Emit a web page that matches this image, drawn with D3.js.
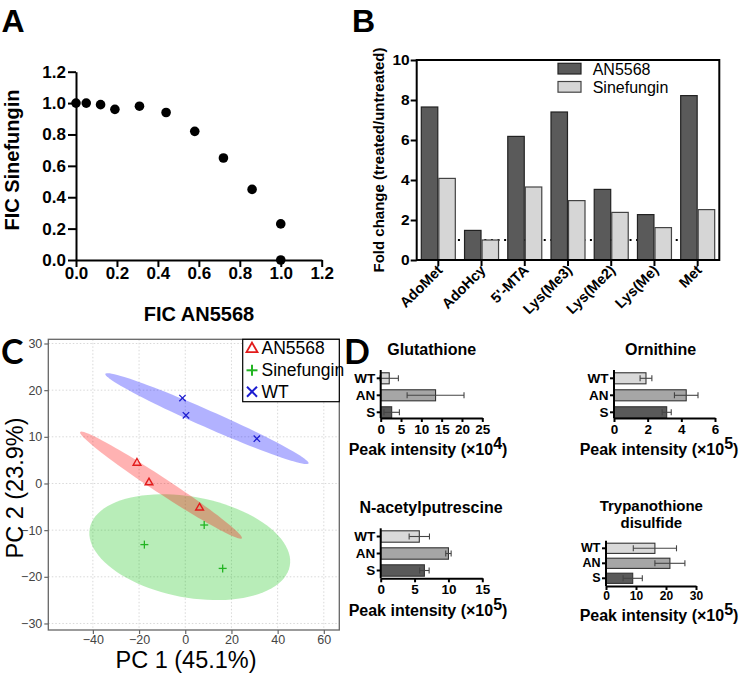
<!DOCTYPE html>
<html><head><meta charset="utf-8">
<script src="https://cdn.jsdelivr.net/npm/d3@7"></script>
<style>body{margin:0;background:#fff} svg{display:block}</style>
</head><body><svg id="c" width="739" height="675"></svg>
<script>
// ---------- Panel A data ----------
const ficAN5568 = [0, 0.05, 0.12, 0.19, 0.31, 0.44, 0.58, 0.72, 0.86, 1.0, 1.0];
const ficSinefungin = [1.0, 1.0, 0.99, 0.96, 0.98, 0.94, 0.82, 0.65, 0.45, 0.23, 0.0];
const ficTicks = [0, 0.2, 0.4, 0.6, 0.8, 1.0, 1.2];

// ---------- Panel B data ----------
const metabolites = ["AdoMet", "AdoHcy", "5'-MTA", "Lys(Me3)", "Lys(Me2)", "Lys(Me)", "Met"];
const foldSeries = ["AN5568", "Sinefungin"];
const foldAN5568 = [7.65, 1.48, 6.18, 7.4, 3.53, 2.27, 8.22];
const foldSinefungin = [4.08, 1.0, 3.65, 2.97, 2.38, 1.62, 2.52];
const foldTicks = [0, 2, 4, 6, 8, 10];
const foldReference = 1;

// ---------- Panel C data ----------
const pcaGroups = ["AN5568", "Sinefungin", "WT"];
const pc1AN5568 = [-20.9, -15.7, 6.2];
const pc2AN5568 = [4.5, 0.3, -5.1];
const pc1Sinefungin = [-17.7, 8.2, 16.2];
const pc2Sinefungin = [-13.1, -8.9, -18.2];
const pc1WT = [-1.2, 0.3, 31.0];
const pc2WT = [18.3, 14.6, 9.6];
const pc1Ticks = [-40, -20, 0, 20, 40, 60];
const pc2Ticks = [-30, -20, -10, 0, 10, 20, 30];
// confidence ellipses: centre and two conjugate half-axes (data units)
const ellCx = [-10.5, 1.95, 9.4];
const ellCy = [-0.36, -13.65, 13.9];
const ellUx = [35.0, 43.3, 44.0];
const ellUy = [-11.4, -4.05, -9.6];
const ellVx = [-1.86, -4.05, -1.49];
const ellVy = [-1.39, -10.6, -1.66];

// ---------- Panel D data ----------
const strains = ["WT", "AN", "S"];
const glutathione = [2.1, 13.5, 2.7];
const glutathioneErr = [2.25, 7.0, 1.9];
const ornithine = [1.9, 4.29, 3.13];
const ornithineErr = [0.35, 0.7, 0.27];
const acetylputrescine = [5.7, 10.0, 6.45];
const acetylputrescineErr = [1.5, 0.4, 0.7];
const trypanothione = [16.3, 21.3, 8.9];
const trypanothioneErr = [7.2, 5.0, 3.2];

// =====================================================
const svg = d3.select("#c");
const FONT = "'Liberation Sans', Arial, Helvetica, sans-serif";
const LETTER = "Lato, 'Open Sans', sans-serif";

function styleAxis(g, fs, weight, sw, color, textColor) {
  g.selectAll("path.domain").attr("stroke", color).attr("stroke-width", sw);
  g.selectAll(".tick line").attr("stroke", color).attr("stroke-width", sw);
  g.selectAll(".tick text").attr("font-family", FONT).attr("font-size", fs)
    .attr("font-weight", weight).attr("fill", textColor || "#000");
}
function label(x, y, txt, fs, weight, anchor, fam, rot) {
  const t = svg.append("text").attr("font-family", fam || FONT).attr("font-size", fs)
    .attr("font-weight", weight || "normal").attr("text-anchor", anchor || "middle")
    .attr("transform", `translate(${x},${y})` + (rot ? ` rotate(${rot})` : ""))
    .text(txt);
  return t;
}

// ---------------- Panel A ----------------
label(1.5, 31.7, "A", 32, "bold", "start");
const xA = d3.scaleLinear().domain([0, 1.2]).range([76, 321.7]);
const yA = d3.scaleLinear().domain([0, 1.2]).range([260, 71.7]);
const gAx = svg.append("g").attr("transform", "translate(0,260)")
  .call(d3.axisBottom(xA).tickValues(ficTicks).tickFormat(d3.format(".1f")).tickSize(7).tickSizeOuter(0).tickPadding(0));
styleAxis(gAx, 17, "bold", 2, "#000");
const gAy = svg.append("g").attr("transform", "translate(76,0)")
  .call(d3.axisLeft(yA).tickValues(ficTicks).tickFormat(d3.format(".1f")).tickSize(8).tickSizeOuter(0).tickPadding(2));
styleAxis(gAy, 17, "bold", 2, "#000");
svg.append("g").selectAll("circle").data(ficAN5568).join("circle")
  .attr("cx", d => xA(d)).attr("cy", (d, i) => yA(ficSinefungin[i])).attr("r", 4.8).attr("fill", "#000");
label(199, 321, "FIC AN5568", 20, "bold");
label(18.5, 160, "FIC Sinefungin", 20, "bold", "middle", FONT, -90);

// ---------------- Panel B ----------------
label(352, 31.7, "B", 32, "bold", "start");
const xB = d3.scaleBand().domain(metabolites).range([416.7, 719.3]);
const xB1 = d3.scaleBand().domain(foldSeries).range([-17, 17]).paddingInner(0.06);
const yB = d3.scaleLinear().domain([0, 10]).range([260, 60]);
const cB = m => xB(m) + xB.bandwidth() / 2;
// reference line
svg.append("line").attr("x1", xB(metabolites[1]) - 2).attr("x2", xB(metabolites[6]) + 2)
  .attr("y1", yB(foldReference)).attr("y2", yB(foldReference))
  .attr("stroke", "#000").attr("stroke-width", 2).attr("stroke-dasharray", "2,4.6");
const seriesVals = [foldAN5568, foldSinefungin];
const seriesFill = ["#5a5a5a", "#d6d6d6"];
const seriesStroke = ["#222", "#444"];
foldSeries.forEach((s, si) => {
  svg.append("g").selectAll("rect").data(metabolites).join("rect")
    .attr("x", m => cB(m) + xB1(s)).attr("width", xB1.bandwidth())
    .attr("y", (m, i) => yB(seriesVals[si][i])).attr("height", (m, i) => yB(0) - yB(seriesVals[si][i]))
    .attr("fill", seriesFill[si]).attr("stroke", seriesStroke[si]).attr("stroke-width", 1.2);
});
svg.append("rect").attr("x", 416.7).attr("y", 60).attr("width", 719.3 - 416.7).attr("height", 200)
  .attr("fill", "none").attr("stroke", "#000").attr("stroke-width", 2);
const gBy = svg.append("g").attr("transform", "translate(416.7,0)")
  .call(d3.axisLeft(yB).tickValues(foldTicks).tickSize(6).tickSizeOuter(0).tickPadding(1));
styleAxis(gBy, 15.5, "bold", 2, "#000");
gBy.select("path.domain").remove();
// x ticks
svg.append("g").selectAll("line").data(metabolites).join("line")
  .attr("x1", cB).attr("x2", cB).attr("y1", 260).attr("y2", 266)
  .attr("stroke", "#000").attr("stroke-width", 2);
svg.append("g").selectAll("text").data(metabolites).join("text")
  .attr("transform", m => `translate(${cB(m) + 5},${271}) rotate(-45)`)
  .attr("text-anchor", "end").attr("font-family", FONT).attr("font-size", 14.5).attr("font-weight", "bold")
  .text(m => m);
label(384, 160, "Fold change (treated/untreated)", 15, "bold", "middle", FONT, -90);
// legend
foldSeries.forEach((s, si) => {
  const y0 = [63.3, 81.5][si];
  svg.append("rect").attr("x", 558).attr("y", y0).attr("width", 23).attr("height", 10.7)
    .attr("fill", seriesFill[si]).attr("stroke", seriesStroke[si]).attr("stroke-width", 1.2);
  label(592.7, y0 + 11.3, s, 16, "normal", "start");
});

// ---------------- Panel C ----------------
label(1, 363.5, "C", 34, "bold", "start", LETTER);
const xC = d3.scaleLinear().domain([-59.3, 66.7]).range([48.3, 339.3]);
const yC = d3.scaleLinear().domain([-31.4, 30.9]).range([630, 339.3]);
const gC = svg.append("g");
// grid
gC.selectAll("line.gx").data(pc1Ticks).join("line").attr("class", "gx")
  .attr("x1", xC).attr("x2", xC).attr("y1", 339.3).attr("y2", 630)
  .attr("stroke", "#d8d8d8").attr("stroke-width", 1).attr("stroke-dasharray", "1.5,2");
gC.selectAll("line.gy").data(pc2Ticks).join("line").attr("class", "gy")
  .attr("y1", yC).attr("y2", yC).attr("x1", 48.3).attr("x2", 339.3)
  .attr("stroke", "#d8d8d8").attr("stroke-width", 1).attr("stroke-dasharray", "1.5,2");
// ellipses
const ellFill = ["rgba(255,0,0,0.3)", "rgba(0,190,0,0.28)", "rgba(0,0,255,0.3)"];
const ellOrder = [2, 1, 0];
const lineClosed = d3.line().curve(d3.curveLinearClosed);
ellOrder.forEach(i => {
  const pts = d3.range(0, 96).map(k => {
    const t = 2 * Math.PI * k / 96;
    return [xC(ellCx[i] + ellUx[i] * Math.cos(t) + ellVx[i] * Math.sin(t)),
            yC(ellCy[i] + ellUy[i] * Math.cos(t) + ellVy[i] * Math.sin(t))];
  });
  gC.append("path").attr("d", lineClosed(pts)).attr("fill", ellFill[i]).attr("stroke", "none");
});
// points
const triSym = d3.symbol(d3.symbolTriangle).size(26);
gC.selectAll("path.tri").data(pc1AN5568).join("path").attr("class", "tri")
  .attr("d", triSym).attr("transform", (d, i) => `translate(${xC(d)},${yC(pc2AN5568[i]) + 0.5})`)
  .attr("fill", "none").attr("stroke", "#e21b1b").attr("stroke-width", 1.4);
function plus(g, x, y, h, col, sw) {
  g.append("line").attr("x1", x - h).attr("x2", x + h).attr("y1", y).attr("y2", y).attr("stroke", col).attr("stroke-width", sw);
  g.append("line").attr("x1", x).attr("x2", x).attr("y1", y - h).attr("y2", y + h).attr("stroke", col).attr("stroke-width", sw);
}
function cross(g, x, y, h, col, sw) {
  g.append("line").attr("x1", x - h).attr("x2", x + h).attr("y1", y - h).attr("y2", y + h).attr("stroke", col).attr("stroke-width", sw);
  g.append("line").attr("x1", x - h).attr("x2", x + h).attr("y1", y + h).attr("y2", y - h).attr("stroke", col).attr("stroke-width", sw);
}
pc1Sinefungin.forEach((d, i) => plus(gC, xC(d), yC(pc2Sinefungin[i]), 4, "#22b422", 1.3));
pc1WT.forEach((d, i) => cross(gC, xC(d), yC(pc2WT[i]), 3.2, "#1c1cd0", 1.3));
// frame and axes
gC.append("rect").attr("x", 48.3).attr("y", 339.3).attr("width", 291).attr("height", 290.7)
  .attr("fill", "none").attr("stroke", "#666").attr("stroke-width", 1.3);
const gCx = svg.append("g").attr("transform", "translate(0,630)")
  .call(d3.axisBottom(xC).tickValues(pc1Ticks).tickSize(4).tickSizeOuter(0).tickPadding(1.5));
styleAxis(gCx, 12.5, "normal", 1.2, "#666", "#444");
gCx.select("path.domain").remove();
const gCy = svg.append("g").attr("transform", "translate(48.3,0)")
  .call(d3.axisLeft(yC).tickValues(pc2Ticks).tickSize(4).tickSizeOuter(0).tickPadding(2));
styleAxis(gCy, 12.5, "normal", 1.2, "#666", "#444");
gCy.select("path.domain").remove();
label(186, 668, "PC 1 (45.1%)", 23.5, "normal");
label(22.5, 488, "PC 2 (23.9%)", 23.5, "normal", "middle", FONT, -90);
// legend
svg.append("rect").attr("x", 242.7).attr("y", 339.3).attr("width", 96.6).attr("height", 62.4)
  .attr("fill", "#fff").attr("stroke", "#000").attr("stroke-width", 1.2);
const legY = [348, 370.3, 391.7];
svg.append("path").attr("d", d3.symbol(d3.symbolTriangle).size(52)())
  .attr("transform", `translate(252,${legY[0] + 1})`).attr("fill", "none").attr("stroke", "#e21b1b").attr("stroke-width", 1.8);
plus(svg, 252, legY[1], 5.5, "#22b422", 2);
cross(svg, 252, legY[2], 5, "#1c1cd0", 2);
pcaGroups.forEach((g, i) => label(261.5, legY[i] + 6, g, 17.5, "normal", "start"));

// ---------------- Panel D ----------------
label(344, 363.5, "D", 34, "bold", "start", LETTER);
const strainFill = ["#d9d9d9", "#a6a6a6", "#595959"];
function hbar(o) {
  const x = d3.scaleLinear().domain(o.domain).range([o.x0, o.x1]);
  const y = d3.scaleBand().domain(strains).range([o.r0, o.r0 + 3 * o.step]).paddingInner(o.pin).paddingOuter(o.pin / 2);
  const g = svg.append("g");
  g.selectAll("rect").data(strains).join("rect")
    .attr("x", o.x0).attr("y", s => y(s)).attr("height", y.bandwidth())
    .attr("width", (s, i) => x(o.vals[i]) - o.x0)
    .attr("fill", (s, i) => strainFill[i]).attr("stroke", "#333").attr("stroke-width", 1.1);
  strains.forEach((s, i) => {
    const cy = y(s) + y.bandwidth() / 2, lo = x(o.vals[i] - o.errs[i]), hi = x(o.vals[i] + o.errs[i]);
    g.append("line").attr("x1", lo).attr("x2", hi).attr("y1", cy).attr("y2", cy).attr("stroke", "#444").attr("stroke-width", 1.1);
    [lo, hi].forEach(xx => g.append("line").attr("x1", xx).attr("x2", xx).attr("y1", cy - 3).attr("y2", cy + 3).attr("stroke", "#444").attr("stroke-width", 1.1));
  });
  const gx = g.append("g").attr("transform", `translate(0,${o.axisY})`)
    .call(d3.axisBottom(x).tickValues(o.ticks).tickFormat(d3.format("d")).tickSize(4).tickSizeOuter(0).tickPadding(o.tp));
  styleAxis(gx, o.tfs, "bold", 2, "#000");
  const gy = g.append("g").attr("transform", `translate(${o.x0},0)`)
    .call(d3.axisLeft(y).tickSize(4).tickSizeOuter(0).tickPadding(1.5));
  styleAxis(gy, o.cfs, "bold", 2, "#000");
  gy.select("path.domain").attr("d", `M0,${o.yTop}V${o.axisY}`);
  // titles
  o.title.forEach((t, k) => label(o.tx, o.ty + k * 16.7, t, o.titleFs, "bold"));
  const xt = svg.append("text").attr("font-family", FONT).attr("font-size", 16).attr("font-weight", "bold")
    .attr("text-anchor", "middle").attr("x", o.xtx).attr("y", o.xty);
  xt.append("tspan").text("Peak intensity (\u00d710");
  xt.append("tspan").attr("dy", -6).attr("font-size", 16).text(o.exp);
  xt.append("tspan").attr("dy", 6).text(")");
}
hbar({ domain: [0, 25], ticks: [0, 5, 10, 15, 20, 25], x0: 380.7, x1: 482.3, r0: 369.8, step: 17, pin: 0.35,
  axisY: 418, yTop: 370, vals: glutathione, errs: glutathioneErr, tp: 2, tfs: 13.5, cfs: 13.5,
  title: ["Glutathione"], tx: 431.7, ty: 355, titleFs: 16, xtx: 428, xty: 455, exp: "4" });
hbar({ domain: [0, 6], ticks: [0, 2, 4, 6], x0: 614, x1: 715, r0: 369.8, step: 17, pin: 0.35,
  axisY: 418, yTop: 370, vals: ornithine, errs: ornithineErr, tp: 2, tfs: 13.5, cfs: 13.5,
  title: ["Ornithine"], tx: 660.5, ty: 355, titleFs: 16, xtx: 659, xty: 455, exp: "5" });
hbar({ domain: [0, 15], ticks: [0, 5, 10, 15], x0: 380.7, x1: 482.3, r0: 528, step: 17, pin: 0.33,
  axisY: 578.3, yTop: 528.3, vals: acetylputrescine, errs: acetylputrescineErr, tp: 2, tfs: 13.5, cfs: 13.5,
  title: ["N-acetylputrescine"], tx: 431, ty: 513, titleFs: 16, xtx: 428, xty: 616, exp: "5" });
hbar({ domain: [0, 30], ticks: [0, 10, 20, 30], x0: 606, x1: 696, r0: 540.8, step: 15, pin: 0.32,
  axisY: 586, yTop: 540.7, vals: trypanothione, errs: trypanothioneErr, tp: 1, tfs: 12, cfs: 12.5,
  title: ["Trypanothione", "disulfide"], tx: 651.3, ty: 511, titleFs: 15, xtx: 659, xty: 621, exp: "5" });
</script></body></html>
